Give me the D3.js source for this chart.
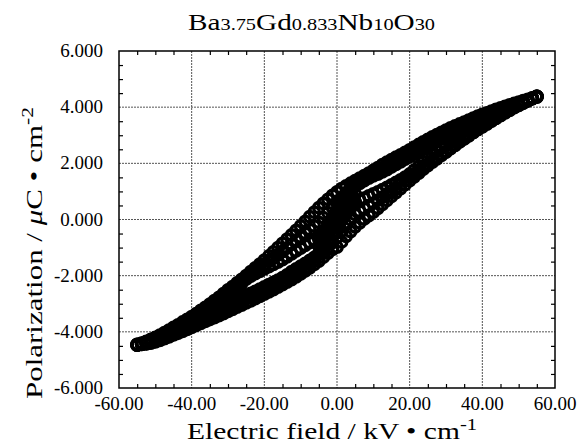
<!DOCTYPE html>
<html><head><meta charset="utf-8">
<script src="https://cdn.jsdelivr.net/npm/d3@7"></script>
<style>body{margin:0;background:#fff}svg{display:block}text{font-family:"Liberation Serif","Times New Roman",serif;fill:#000}</style>
</head><body>
<svg id="c" width="579" height="445"></svg>
<script>
// Electric field values (kV/cm)
const field = [-55,-53.75,-52.5,-51.25,-50,-48.75,-47.5,-46.25,-45,-43.75,-42.5,-41.25,-40,-38.75,-37.5,-36.25,-35,-33.75,-32.5,-31.25,-30,-28.75,-27.5,-26.25,-25,-23.75,-22.5,-21.25,-20,-18.75,-17.5,-16.25,-15,-13.75,-12.5,-11.25,-10,-8.75,-7.5,-6.25,-5,-3.75,-2.5,-1.25,0,1.25,2.5,3.75,5,6.25,7.5,8.75,10,11.25,12.5,13.75,15,16.25,17.5,18.75,20,21.25,22.5,23.75,25,26.25,27.5,28.75,30,31.25,32.5,33.75,35,36.25,37.5,38.75,40,41.25,42.5,43.75,45,46.25,47.5,48.75,50,51.25,52.5,53.75,55];
// Polarization (µC/cm²) — descending branches of three cycles
const upperOuter = [-4.45,-4.40,-4.34,-4.27,-4.20,-4.12,-4.03,-3.94,-3.84,-3.75,-3.65,-3.56,-3.46,-3.35,-3.24,-3.13,-3.01,-2.89,-2.77,-2.64,-2.51,-2.39,-2.26,-2.13,-2.00,-1.86,-1.72,-1.59,-1.45,-1.30,-1.15,-1.00,-0.85,-0.70,-0.55,-0.39,-0.23,-0.07,0.10,0.26,0.42,0.57,0.72,0.86,0.98,1.10,1.20,1.29,1.38,1.47,1.56,1.65,1.75,1.85,1.95,2.04,2.13,2.22,2.30,2.39,2.48,2.58,2.67,2.76,2.85,2.94,3.02,3.10,3.18,3.26,3.33,3.40,3.47,3.54,3.61,3.68,3.74,3.80,3.86,3.92,3.97,4.03,4.08,4.13,4.18,4.23,4.28,4.33,4.38];
const upperMid = [-4.45,-4.41,-4.36,-4.30,-4.23,-4.16,-4.08,-3.99,-3.90,-3.81,-3.72,-3.63,-3.53,-3.43,-3.32,-3.21,-3.10,-2.98,-2.86,-2.74,-2.62,-2.49,-2.35,-2.20,-2.06,-1.94,-1.82,-1.71,-1.60,-1.49,-1.38,-1.26,-1.14,-1.01,-0.88,-0.75,-0.62,-0.49,-0.36,-0.23,-0.10,0.07,0.24,0.42,0.60,0.78,0.96,1.13,1.29,1.38,1.47,1.56,1.65,1.74,1.83,1.92,2.00,2.09,2.18,2.27,2.36,2.46,2.55,2.64,2.73,2.82,2.90,2.99,3.07,3.15,3.23,3.31,3.38,3.45,3.52,3.59,3.66,3.73,3.79,3.85,3.91,3.97,4.03,4.09,4.14,4.20,4.26,4.32,4.37];
const upperInner = [-4.46,-4.42,-4.38,-4.33,-4.27,-4.20,-4.12,-4.04,-3.96,-3.88,-3.79,-3.70,-3.60,-3.50,-3.40,-3.29,-3.18,-3.07,-2.95,-2.84,-2.72,-2.58,-2.44,-2.28,-2.12,-2.02,-1.93,-1.85,-1.76,-1.68,-1.60,-1.52,-1.43,-1.33,-1.22,-1.12,-1.02,-0.92,-0.82,-0.73,-0.64,-0.45,-0.25,-0.03,0.20,0.46,0.72,0.97,1.20,1.29,1.38,1.47,1.55,1.62,1.70,1.78,1.87,1.96,2.05,2.15,2.24,2.33,2.42,2.51,2.60,2.69,2.78,2.87,2.95,3.04,3.12,3.20,3.28,3.36,3.43,3.51,3.58,3.65,3.72,3.79,3.85,3.92,3.98,4.04,4.10,4.17,4.23,4.30,4.36];
// ascending branches of three cycles
const lowerInner = [-4.47,-4.44,-4.41,-4.37,-4.32,-4.26,-4.20,-4.13,-4.06,-3.99,-3.91,-3.83,-3.75,-3.67,-3.58,-3.49,-3.40,-3.31,-3.21,-3.12,-3.02,-2.94,-2.86,-2.78,-2.70,-2.63,-2.56,-2.48,-2.40,-2.32,-2.24,-2.16,-2.07,-1.97,-1.86,-1.76,-1.66,-1.56,-1.46,-1.35,-1.22,-1.03,-0.80,-0.54,-0.28,-0.02,0.22,0.43,0.62,0.69,0.76,0.84,0.91,0.98,1.06,1.14,1.23,1.32,1.41,1.51,1.62,1.76,1.90,2.05,2.18,2.30,2.42,2.53,2.63,2.74,2.84,2.94,3.04,3.14,3.24,3.33,3.42,3.51,3.60,3.69,3.78,3.86,3.94,4.02,4.09,4.16,4.23,4.31,4.38];
const lowerMid = [-4.47,-4.45,-4.42,-4.38,-4.34,-4.28,-4.22,-4.16,-4.09,-4.02,-3.95,-3.88,-3.80,-3.72,-3.64,-3.56,-3.48,-3.40,-3.32,-3.24,-3.15,-3.07,-2.99,-2.90,-2.82,-2.76,-2.69,-2.61,-2.53,-2.45,-2.37,-2.29,-2.20,-2.10,-2.00,-1.90,-1.80,-1.70,-1.59,-1.47,-1.35,-1.18,-1.00,-0.82,-0.63,-0.41,-0.19,0.00,0.18,0.29,0.39,0.48,0.58,0.69,0.80,0.91,1.02,1.13,1.25,1.38,1.50,1.61,1.72,1.85,1.97,2.09,2.20,2.31,2.42,2.54,2.65,2.77,2.88,2.99,3.10,3.21,3.31,3.41,3.51,3.61,3.71,3.81,3.90,3.99,4.07,4.15,4.23,4.31,4.38];
const lowerOuter = [-4.47,-4.45,-4.43,-4.40,-4.36,-4.30,-4.24,-4.18,-4.11,-4.05,-3.98,-3.91,-3.84,-3.77,-3.70,-3.63,-3.56,-3.49,-3.42,-3.35,-3.27,-3.20,-3.12,-3.05,-2.97,-2.90,-2.82,-2.74,-2.66,-2.58,-2.50,-2.41,-2.32,-2.23,-2.14,-2.04,-1.94,-1.83,-1.72,-1.60,-1.48,-1.34,-1.20,-1.06,-0.98,-0.80,-0.60,-0.43,-0.26,-0.12,0.02,0.14,0.26,0.40,0.54,0.68,0.82,0.96,1.10,1.24,1.38,1.52,1.65,1.79,1.92,2.04,2.16,2.28,2.40,2.52,2.64,2.76,2.87,2.98,3.09,3.20,3.30,3.40,3.50,3.60,3.70,3.80,3.89,3.98,4.06,4.14,4.22,4.30,4.38];
// switching region near zero field (finer field steps)
const fieldCentre = [-5,-4.375,-3.75,-3.125,-2.5,-1.875,-1.25,-0.625,0,0.625,1.25,1.875,2.5,3.125,3.75,4.375,5];
const centreRow = [-0.93,-0.84,-0.74,-0.63,-0.52,-0.40,-0.28,-0.16,-0.04,0.09,0.22,0.35,0.47,0.59,0.70,0.81,0.91];
const centreUpper = [-0.70,-0.60,-0.48,-0.36,-0.22,-0.08,0.06,0.20,0.34,0.48,0.61,0.74,0.86,0.98,1.08,1.16,1.24];
const centreLower = [-1.20,-1.12,-1.02,-0.92,-0.80,-0.68,-0.55,-0.42,-0.30,-0.16,-0.03,0.10,0.22,0.34,0.44,0.54,0.62];

const xTicks = [-60,-40,-20,0,20,40,60];
const xTickLabels = ["-60.00","-40.00","-20.00","0.00","20.00","40.00","60.00"];
const yTicks = [6,4,2,0,-2,-4,-6];
const yTickLabels = ["6.000","4.000","2.000","0.000","-2.000","-4.000","-6.000"];

const svg = d3.select("#c");
const L = 119, R = 555, T = 51, B = 388;
const x = d3.scaleLinear().domain([-60,60]).range([L,R]);
const y = d3.scaleLinear().domain([-6,6]).range([B,T]);

// grid
const g = svg.append("g");
g.selectAll(".gx").data(xTicks.slice(1,-1)).join("line")
  .attr("x1",d=>x(d)).attr("x2",d=>x(d)).attr("y1",T).attr("y2",B)
  .attr("stroke","#555").attr("stroke-width",1).attr("stroke-dasharray","2,1");
g.selectAll(".gy").data(yTicks.slice(1,-1)).join("line")
  .attr("y1",d=>y(d)).attr("y2",d=>y(d)).attr("x1",L).attr("x2",R)
  .attr("stroke","#555").attr("stroke-width",1).attr("stroke-dasharray","2,1");

// minor ticks via axes
const xMinor = d3.range(-55,60,5).filter(v=>v%20!==0);
const yMinor = d3.range(-5.5,6,0.5).filter(v=>Math.abs(v%2)>0.01);
svg.append("g").attr("transform",`translate(0,${B})`)
  .call(d3.axisTop(x).tickValues(xMinor).tickSize(4).tickFormat(""))
  .call(a=>a.select(".domain").remove());
svg.append("g").attr("transform",`translate(0,${T})`)
  .call(d3.axisBottom(x).tickValues(xMinor).tickSize(4).tickFormat(""))
  .call(a=>a.select(".domain").remove());
svg.append("g").attr("transform",`translate(${L},0)`)
  .call(d3.axisRight(y).tickValues(yMinor).tickSize(4).tickFormat(""))
  .call(a=>a.select(".domain").remove());
svg.append("g").attr("transform",`translate(${R},0)`)
  .call(d3.axisLeft(y).tickValues(yMinor).tickSize(4).tickFormat(""))
  .call(a=>a.select(".domain").remove());
svg.selectAll(".tick line").attr("stroke","#000").attr("stroke-width",1.2);

// frame
svg.append("rect").attr("x",L).attr("y",T).attr("width",R-L).attr("height",B-T)
  .attr("fill","none").attr("stroke","#000").attr("stroke-width",1.5);

// tick labels
svg.append("g").selectAll("text").data(xTicks).join("text")
  .attr("x",d=>x(d)).attr("y",B+22).attr("text-anchor","middle")
  .attr("font-size",19).text((d,i)=>xTickLabels[i]);
svg.append("g").selectAll("text").data(yTicks).join("text")
  .attr("x",103).attr("y",d=>y(d)+6).attr("text-anchor","end")
  .attr("font-size",19).text((d,i)=>yTickLabels[i]);

// data
const rows = [upperOuter, upperMid, upperInner, lowerInner, lowerMid, lowerOuter];
const pts = [];
rows.forEach(r=>r.forEach((p,i)=>pts.push([field[i],p])));
[centreUpper, centreRow, centreLower].forEach(r=>r.forEach((p,i)=>pts.push([fieldCentre[i],p])));
svg.append("g").selectAll("circle").data(pts).join("circle")
  .attr("cx",d=>x(d[0])).attr("cy",d=>y(d[1])).attr("r",5.2)
  .attr("fill","none").attr("stroke","#000").attr("stroke-width",3.4);

// title
const t = svg.append("text").attr("x",188).attr("y",30).attr("font-size",23)
  .attr("textLength",247).attr("lengthAdjust","spacingAndGlyphs");
[["Ba",23],["3.75",16],["Gd",23],["0.833",16],["Nb",23],["10",16],["O",23],["30",16]]
  .forEach(([s,f])=>t.append("tspan").attr("font-size",f).text(s));

// x title
const xt = svg.append("text").attr("x",187).attr("y",439).attr("font-size",23)
  .attr("textLength",290).attr("lengthAdjust","spacingAndGlyphs");
xt.append("tspan").text("Electric field / kV \u2022 cm");
xt.append("tspan").attr("font-size",16).attr("dy",-9).text("-1");

// y title
const yt = svg.append("text").attr("transform","translate(42,399) rotate(-90)").attr("font-size",23)
  .attr("textLength",292).attr("lengthAdjust","spacingAndGlyphs");
yt.append("tspan").text("Polarization / ");
yt.append("tspan").attr("font-style","italic").text("\u03bc");
yt.append("tspan").text("C \u2022 cm");
yt.append("tspan").attr("font-size",16).attr("dy",-9).text("-2");
</script>
</body></html>
